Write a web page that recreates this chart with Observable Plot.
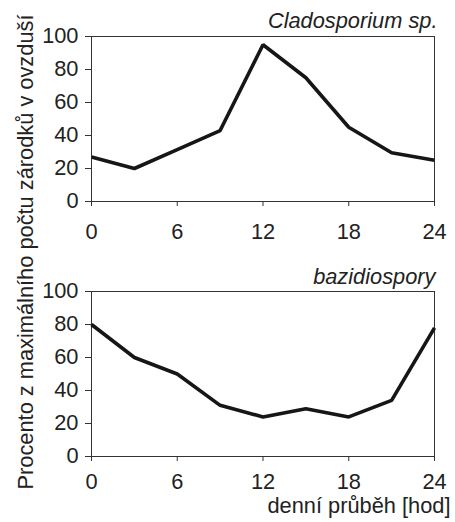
<!DOCTYPE html>
<html>
<head>
<meta charset="utf-8">
<script src="https://cdn.jsdelivr.net/npm/d3@7"></script>
<script src="https://cdn.jsdelivr.net/npm/@observablehq/plot@0.6"></script>
<style>
  html, body { margin: 0; padding: 0; background: #fff; }
  #wrap { position: relative; width: 455px; height: 522px; overflow: hidden; font-family: "Liberation Sans", Arial, sans-serif; }
  #wrap svg { display: block; }
  #ylabel {
    position: absolute; width: 520px; height: 24px; line-height: 24px;
    left: -234px; top: 239.5px; transform: rotate(-90deg);
    text-align: center; white-space: nowrap; font-size: 21.8px; color: #222;
    font-family: "Liberation Sans", Arial, sans-serif;
  }
</style>
</head>
<body>
<div id="wrap"><div id="ylabel"></div></div>
<script>
const hours = [0, 3, 6, 9, 12, 15, 18, 21, 24];
const cladosporium = [27, 20, 31.5, 43, 95, 75, 45, 29.5, 25];
const bazidiospory = [80, 60, 50, 31, 24, 29, 24, 34, 78];
const panelTitles = ["Cladosporium sp.", "bazidiospory"];
const xTicks = [0, 6, 12, 18, 24];
const yTicks = [0, 20, 40, 60, 80, 100];
const xLabel = "denní průběh [hod]";
const yLabel = "Procento z maximálního počtu zárodků v ovzduší";

const FONT = "Liberation Sans, Arial, sans-serif";
const FS = 21.8;
const TXT = "#222";

function panel(values, title, opts) {
  const data = hours.map((h, i) => ({h, v: values[i]}));
  const marks = [
    Plot.frame({stroke: "#333", strokeWidth: 1}),
    Plot.axisX({ticks: xTicks, tickSize: 5, tickPadding: opts.xPad, fontSize: FS, fill: TXT, stroke: "#333", label: null}),
    Plot.axisY({ticks: yTicks, tickSize: 6, tickPadding: 7, fontSize: FS, fill: TXT, stroke: "#333", label: null}),
    Plot.line(data, {x: "h", y: "v", stroke: "#161616", strokeWidth: 3.6, strokeLinejoin: "miter", strokeLinecap: "butt"}),
    Plot.text([title], {text: d => d, frameAnchor: "top-right", textAnchor: "end", lineAnchor: "bottom",
      dx: opts.titleDx, dy: opts.titleDy, fontSize: FS, fontStyle: "italic", fill: TXT})
  ];
  if (opts.xLabel) {
    marks.push(Plot.text([opts.xLabel], {text: d => d, frameAnchor: "bottom-right", textAnchor: "end", lineAnchor: "bottom",
      dx: 16, dy: 56, fontSize: FS, fill: TXT}));
  }
  return Plot.plot({
    width: 455,
    height: opts.height,
    marginLeft: 91,
    marginRight: 21,
    marginTop: opts.marginTop,
    marginBottom: opts.height - opts.marginTop - 165,
    style: {fontFamily: FONT, fontSize: FS + "px", color: TXT, background: "transparent", overflow: "visible"},
    x: {domain: [0, 24], nice: false},
    y: {domain: [0, 100], nice: false},
    marks
  });
}

const wrap = document.getElementById("wrap");
wrap.appendChild(panel(cladosporium, panelTitles[0], {height: 260, marginTop: 36, titleDx: 3, titleDy: -9, xPad: 17}));
wrap.appendChild(panel(bazidiospory, panelTitles[1], {height: 262, marginTop: 31, titleDx: 1, titleDy: -7.5, xPad: 12.5, xLabel}));
document.getElementById("ylabel").textContent = yLabel;
</script>
</body>
</html>
